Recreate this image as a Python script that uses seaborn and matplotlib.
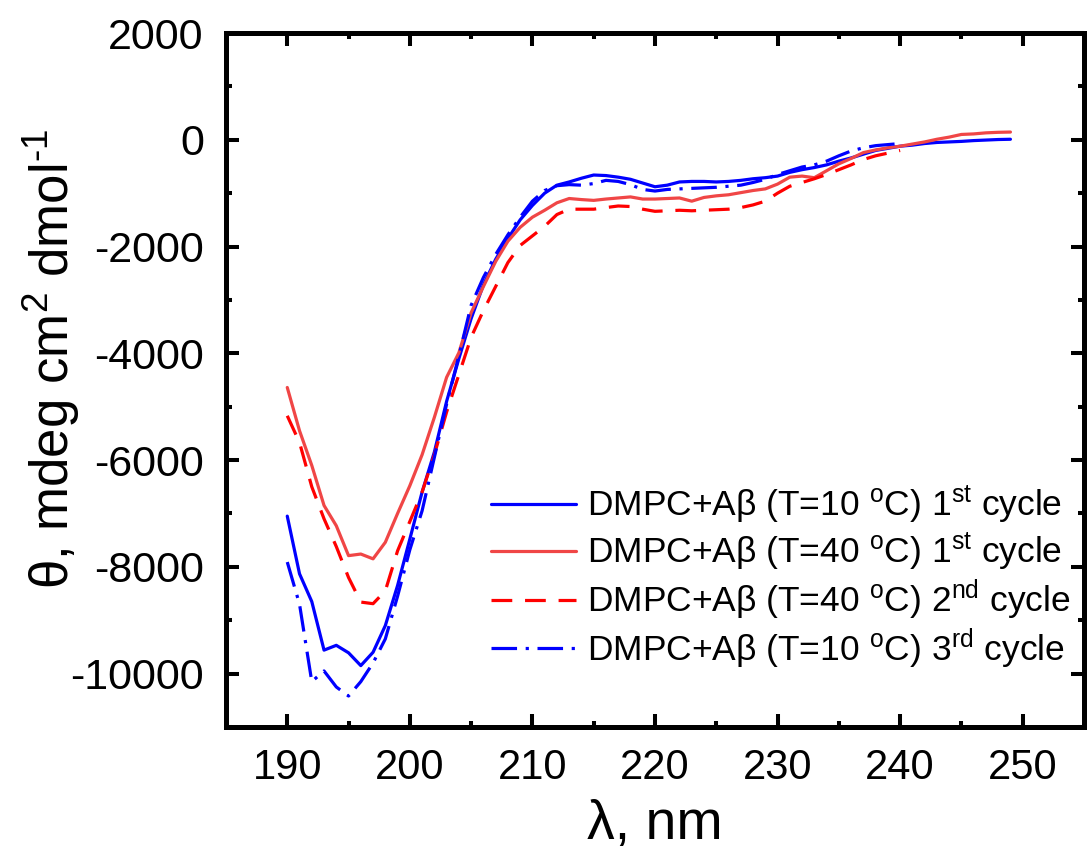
import numpy as np
import pandas as pd
import matplotlib
matplotlib.use('Agg')
import matplotlib.pyplot as plt
import seaborn as sns

# CD spectra (1 nm steps)
wl_long = list(range(190, 250))
wl_short = list(range(190, 241))

t10_1st = [-7050, -8130, -8650, -9560, -9470, -9610, -9850, -9600, -9100, -8350,
           -7480, -6600, -5850, -4900, -4100, -3350, -2720, -2240, -1850, -1500,
           -1230, -1000, -850, -790, -720, -660, -670, -700, -740, -810,
           -880, -850, -790, -780, -780, -790, -780, -760, -730, -710,
           -680, -610, -560, -520, -470, -400, -340, -270, -200, -160,
           -120, -100, -70, -50, -40, -30, -15, -5, 5, 10]
t40_1st = [-4640, -5450, -6100, -6850, -7230, -7790, -7760, -7850, -7540, -7000,
           -6480, -5900, -5200, -4450, -3990, -3240, -2750, -2280, -1900, -1640,
           -1450, -1320, -1180, -1100, -1120, -1135, -1110, -1090, -1070, -1110,
           -1110, -1100, -1090, -1150, -1080, -1050, -1030, -990, -950, -920,
           -830, -700, -680, -710, -580, -450, -350, -240, -190, -150,
           -120, -80, -40, 10, 50, 100, 110, 130, 140, 145]
t40_2nd = [-5170, -5670, -6500, -7100, -7620, -8200, -8660, -8690, -8450, -7700,
           -7150, -6600, -5900, -5100, -4400, -3700, -3200, -2750, -2300, -1980,
           -1800, -1620, -1400, -1300, -1300, -1300, -1270, -1240, -1250, -1300,
           -1340, -1330, -1320, -1330, -1320, -1310, -1300, -1270, -1220, -1150,
           -1000, -870, -800, -730, -650, -560, -470, -370, -300, -250, -200]
t10_3rd = [-7910, -8700, -10150, -9950, -10250, -10420, -10150, -9800, -9350, -8550,
           -7680, -6950, -5950, -4950, -4050, -3100, -2580, -2150, -1780, -1450,
           -1150, -950, -860, -840, -850, -820, -760, -780, -840, -930,
           -960, -930, -920, -910, -900, -890, -870, -850, -800, -740,
           -650, -580, -510, -470, -400, -300, -210, -150, -110, -90, -70]

labels = ['DMPC+A\u03b2 (T=10 $^{\\rm o}$C) 1$^{\\rm st}$ cycle',
          'DMPC+A\u03b2 (T=40 $^{\\rm o}$C) 1$^{\\rm st}$ cycle',
          'DMPC+A\u03b2 (T=40 $^{\\rm o}$C) 2$^{\\rm nd}$ cycle',
          'DMPC+A\u03b2 (T=10 $^{\\rm o}$C) 3$^{\\rm rd}$ cycle']

sns.set_style('ticks')
plt.rcParams['font.family'] = ['Liberation Sans', 'DejaVu Sans']
plt.rcParams['mathtext.fontset'] = 'custom'
plt.rcParams['mathtext.rm'] = 'Liberation Sans'
plt.rcParams['mathtext.it'] = 'Liberation Sans:italic'
plt.rcParams['axes.unicode_minus'] = False
plt.rcParams['text.color'] = 'black'
plt.rcParams['axes.labelcolor'] = 'black'
plt.rcParams['xtick.color'] = 'black'
plt.rcParams['ytick.color'] = 'black'

fig = plt.figure(figsize=(10.88, 8.49), dpi=100)
ax = fig.add_axes([0.2077, 0.1437, 0.7886, 0.8174])

lw = 2.3
sns.lineplot(x=wl_long, y=t10_1st, ax=ax, color='#0000FF', lw=lw, label=labels[0])
sns.lineplot(x=wl_long, y=t40_1st, ax=ax, color='#F04646', lw=lw, label=labels[1])
sns.lineplot(x=wl_short, y=t40_2nd, ax=ax, color='#FF0000', lw=lw,
             linestyle=(0, (6.5, 4)), label=labels[2])
sns.lineplot(x=wl_short, y=t10_3rd, ax=ax, color='#0000FF', lw=lw,
             linestyle=(0, (8, 2.7, 1, 2.7)), label=labels[3])

ax.set_xlim(185, 255)
ax.set_ylim(-11000, 2000)
ax.set_xticks(range(190, 251, 10))
ax.set_xticks(range(195, 255, 10), minor=True)
ax.set_yticks(range(-10000, 2001, 2000))
ax.set_yticks(range(-11000, 2000, 2000), minor=True)

for s in ax.spines.values():
    s.set_linewidth(3.6)
    s.set_color('black')
ax.tick_params(which='both', direction='in', top=True, right=True, width=2.9, color='black')
ax.tick_params(which='major', length=9.6)
ax.tick_params(which='minor', length=4)
ax.tick_params(axis='y', which='major', labelsize=31, pad=16)
ax.tick_params(axis='x', which='major', labelsize=30, pad=15)

ax.set_xlabel('\u03bb, nm', fontsize=40, labelpad=8)
ax.set_ylabel('\u03b8, mdeg cm$^{2}$ dmol$^{\\text{-1}}$', fontsize=38)
ax.yaxis.set_label_coords(-0.168, 0.53)

leg = ax.legend(loc='upper left', bbox_to_anchor=(0.309, 0.35), frameon=False,
                fontsize=25.5, handlelength=2.4, handletextpad=0.32,
                labelspacing=0.13, borderpad=0, borderaxespad=0)

fig.savefig('out.png', dpi=100)
